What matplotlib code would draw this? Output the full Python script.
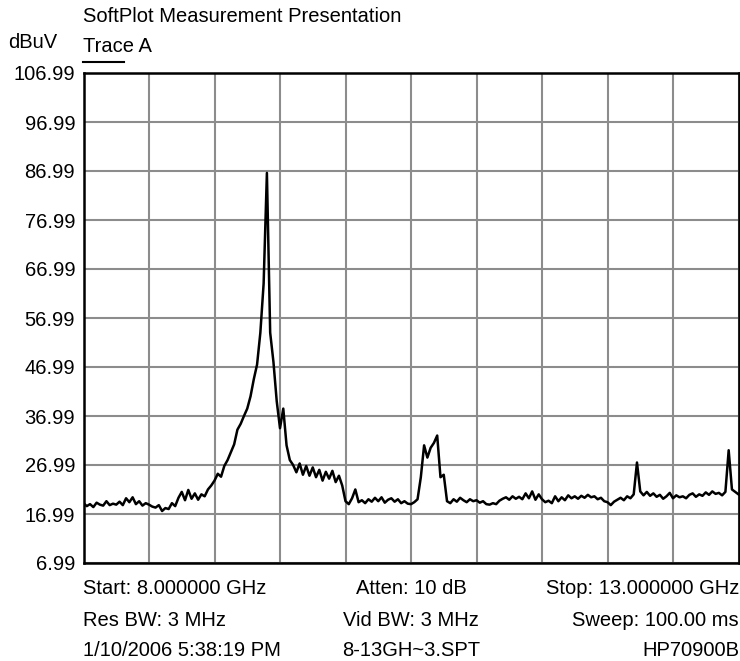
import numpy as np
import matplotlib
matplotlib.use("Agg")
import matplotlib.pyplot as plt

plt.rcParams['font.family'] = ['Liberation Sans', 'DejaVu Sans']

# sweep 8 - 13 GHz, 201 points (dBuV)
start_ghz = 8.0
stop_ghz = 13.0
trace_a = [
    19.2, 18.6, 19.0, 18.4, 19.3, 18.9, 18.7, 19.6, 18.8, 19.1,
    18.9, 19.5, 18.8, 20.2, 19.4, 20.4, 19.0, 19.6, 18.7, 19.2,
    18.9, 18.5, 18.3, 18.8, 17.6, 18.2, 18.0, 19.2, 18.6, 20.3,
    21.5, 19.8, 21.9, 20.1, 21.2, 19.9, 21.0, 20.6, 22.0, 22.8,
    23.8, 25.2, 24.6, 26.8, 28.0, 29.6, 31.2, 34.2, 35.4, 37.0,
    38.5, 41.0, 44.5, 47.5, 54.0, 64.0, 86.6, 54.0, 48.0, 40.0,
    34.5, 38.5, 31.0, 28.0, 27.0, 25.5, 27.3, 25.0, 26.8, 24.8,
    26.5, 24.5, 26.0, 23.8, 25.6, 24.2, 25.8, 23.5, 24.8, 22.8,
    19.6, 19.0, 20.2, 22.0, 19.4, 19.8, 19.2, 20.0, 19.5, 20.3,
    19.6, 20.4, 19.3, 19.9, 20.2, 19.5, 20.0, 19.2, 19.6, 19.1,
    19.0, 19.4, 20.0, 24.5, 31.0, 28.5, 30.5, 31.5, 33.0, 24.5,
    25.0, 19.6, 19.2, 20.0, 19.5, 20.3, 19.8, 19.4, 20.0, 19.6,
    19.8, 19.3, 19.6, 19.0, 18.9, 19.2, 19.0, 19.7, 20.1, 20.4,
    19.9, 20.6, 20.1, 20.5, 20.0, 21.2, 20.2, 21.6, 19.9, 21.0,
    20.0, 19.4, 19.7, 19.2, 20.6, 19.6, 20.4, 19.8, 20.8, 20.2,
    20.6, 20.1, 20.7, 20.3, 20.9, 20.4, 20.6, 20.0, 20.3, 19.6,
    19.4, 18.8, 19.5, 19.9, 20.3, 19.8, 20.6, 20.2, 21.0, 27.5,
    21.6, 20.8, 21.5, 20.7, 21.2, 20.5, 20.9, 20.1, 20.6, 21.3,
    20.2, 20.8, 20.4, 20.6, 20.2, 20.9, 21.2, 20.5, 21.0, 20.7,
    21.4, 20.9, 21.6, 21.1, 21.3, 20.8, 21.5, 30.0, 22.0, 21.5,
    21.0,
]
y_ticks = [106.99, 96.99, 86.99, 76.99, 66.99, 56.99, 46.99, 36.99, 26.99, 16.99, 6.99]

footer_left = ["Start: 8.000000 GHz", "Res BW: 3 MHz", "1/10/2006 5:38:19 PM"]
footer_mid = ["Atten: 10 dB", "Vid BW: 3 MHz", "8-13GH~3.SPT"]
footer_right = ["Stop: 13.000000 GHz", "Sweep: 100.00 ms", "HP70900B"]

freq = np.linspace(start_ghz, stop_ghz, len(trace_a))

W, H = 740, 661
fig = plt.figure(figsize=(W / 100, H / 100), dpi=100)
ax = fig.add_axes([83.5 / W, 1 - 563 / H, (738.5 - 83.5) / W, (563 - 73) / H])

ax.plot(freq, trace_a, color='black', lw=1.8)
ax.set_xlim(start_ghz, stop_ghz)
ax.set_ylim(6.99, 106.99)
ax.set_xticks(np.linspace(start_ghz, stop_ghz, 11))
ax.set_xticklabels([])
ax.set_yticks(y_ticks)
ax.set_yticklabels([f"{v:.2f}" for v in y_ticks], fontsize=14.5)
ax.tick_params(length=0, pad=6)
ax.grid(True, color='#8c8c8c', lw=1.5)
for s in ax.spines.values():
    s.set_color('black')
    s.set_linewidth(1.8)

fs = 14.5
fig.text(83 / W, 1 - 17 / H, "SoftPlot Measurement Presentation", fontsize=fs, va='center')
fig.text(8 / W, 1 - 42 / H, "dBuV", fontsize=fs, va='center')
fig.text(83 / W, 1 - 47 / H, "Trace A", fontsize=fs, va='center')
fig.add_artist(plt.Line2D([83 / W, 124 / W], [1 - 62 / H, 1 - 62 / H], color='black', lw=1.5))

rows = [588, 620, 650]
for y, l, m, r in zip(rows, footer_left, footer_mid, footer_right):
    fig.text(83 / W, 1 - y / H, l, fontsize=fs, va='center', ha='left')
    fig.text(411 / W, 1 - y / H, m, fontsize=fs, va='center', ha='center')
    fig.text(739 / W, 1 - y / H, r, fontsize=fs, va='center', ha='right')

fig.savefig("out.png", dpi=100)
